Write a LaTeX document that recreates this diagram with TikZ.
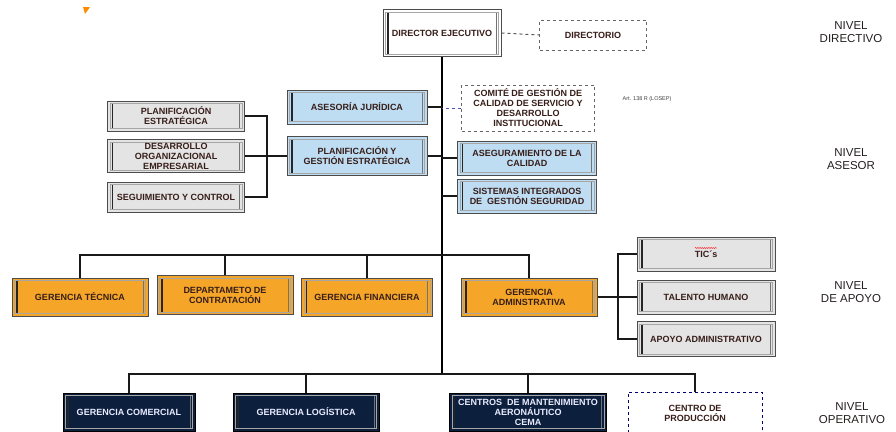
\documentclass[tikz,border=0pt]{standalone}
\usepackage{fontspec}
\setmainfont{Liberation Sans}
\usepackage{tikz}
\usetikzlibrary{decorations.pathmorphing}

\definecolor{txtcol}{RGB}{55,30,25}
\definecolor{boxgrey}{RGB}{228,228,228}
\definecolor{boxblue}{RGB}{190,220,242}
\definecolor{boxorange}{RGB}{245,166,40}
\definecolor{boxnavy}{RGB}{12,32,62}
\definecolor{lvlcol}{RGB}{35,30,30}

\tikzset{
	unit/.style={rectangle, draw=black!70, line width=1pt, align=center,
		font=\bfseries\fontsize{9}{10}\selectfont, text=txtcol, inner sep=1.5pt,
		path picture={
			\draw[black!35, line width=0.4pt]
				([shift={(2.5pt,-2.5pt)}]path picture bounding box.north west) rectangle
				([shift={(-2.5pt,2.5pt)}]path picture bounding box.south east);
			\draw[black!85, line width=1.3pt]
				([shift={(5pt,-3pt)}]path picture bounding box.north west) --
				([shift={(5pt,3pt)}]path picture bounding box.south west);
			\draw[black!55, line width=0.8pt]
				([shift={(-5pt,-3pt)}]path picture bounding box.north east) --
				([shift={(-5pt,3pt)}]path picture bounding box.south east);
		}},
	greybox/.style={unit, fill=boxgrey},
	bluebox/.style={unit, fill=boxblue},
	orangebox/.style={unit, fill=boxorange},
	navybox/.style={unit, fill=boxnavy, draw=black, text=white!92!blue},
	dashbox/.style={rectangle, draw=black!60, dashed, line width=0.9pt, fill=white, align=center,
		font=\bfseries\fontsize{9}{10}\selectfont, text=txtcol, inner sep=1.5pt},
	link/.style={draw=black!90, line width=1.1pt},
	spine/.style={draw=black, line width=2.3pt},
	level/.style={align=center, font=\fontsize{11.5}{13}\selectfont, text=lvlcol}
}

\begin{document}
\begin{tikzpicture}[x=1pt, y=-1pt]
	\useasboundingbox (0,0) rectangle (896,431);
	\clip (0,0) rectangle (896,431);

	% directivo
	\node[greybox, fill=white, minimum width=118pt, minimum height=47pt] (dir) at (442,33) {DIRECTOR EJECUTIVO};
	\node[dashbox, minimum width=107pt, minimum height=30pt] (dirio) at (593,35) {DIRECTORIO};

	% asesor
	\node[bluebox, minimum width=140pt, minimum height=34pt] (aj) at (357,107) {ASESORÍA JURÍDICA};
	\node[bluebox, minimum width=140pt, minimum height=39pt] (pge) at (357,156) {PLANIFICACIÓN Y\\GESTIÓN ESTRATÉGICA};
	\node[dashbox, minimum width=133pt, minimum height=46pt] (com) at (528,108)
		{COMITÉ DE GESTIÓN DE\\CALIDAD DE SERVICIO Y\\DESARROLLO\\INSTITUCIONAL};
	\node[bluebox, minimum width=139pt, minimum height=34pt] (ac) at (527,158) {ASEGURAMIENTO DE LA\\CALIDAD};
	\node[bluebox, minimum width=139pt, minimum height=34pt] (sig) at (527,196) {SISTEMAS INTEGRADOS\\DE \ GESTIÓN SEGURIDAD};
	\node[font=\fontsize{5.5}{6}\selectfont, text=black!75] (art) at (647,99) {Art. 138 R (LOSEP)};

	\node[greybox, minimum width=137pt, minimum height=30pt] (pe) at (176,116) {PLANIFICACIÓN\\ESTRATÉGICA};
	\node[greybox, minimum width=137pt, minimum height=33pt] (doe) at (176,156) {DESARROLLO\\ORGANIZACIONAL\\EMPRESARIAL};
	\node[greybox, minimum width=137pt, minimum height=30pt] (sc) at (176,197) {SEGUIMIENTO Y CONTROL};

	% apoyo
	\node[orangebox, minimum width=136pt, minimum height=38pt] (gt) at (80,297) {GERENCIA TÉCNICA};
	\node[orangebox, minimum width=136pt, minimum height=39pt] (dept) at (225,295) {DEPARTAMETO DE\\CONTRATACIÓN};
	\node[orangebox, minimum width=131pt, minimum height=38pt] (gf) at (367,297) {GERENCIA FINANCIERA};
	\node[orangebox, minimum width=136pt, minimum height=38pt] (ga) at (529,297) {GERENCIA\\ADMINSTRATIVA};

	\node[greybox, minimum width=138pt, minimum height=34pt] (tic) at (706,254) {TIC´s};
	\node[greybox, minimum width=138pt, minimum height=34pt] (th) at (706,297) {TALENTO HUMANO};
	\node[greybox, minimum width=138pt, minimum height=35pt] (aa) at (706,339) {APOYO ADMINISTRATIVO};

	% operativo
	\node[navybox, minimum width=132pt, minimum height=38pt] (gc) at (129,412) {GERENCIA COMERCIAL};
	\node[navybox, minimum width=146pt, minimum height=38pt] (gl) at (306,412) {GERENCIA LOGÍSTICA};
	\node[navybox, minimum width=157pt, minimum height=38pt] (cema) at (528,412) {CENTROS \ DE MANTENIMIENTO\\AERONÁUTICO\\CEMA};
	\node[dashbox, draw=black!55!blue, minimum width=134pt, minimum height=42pt] (cp) at (695,413) {CENTRO DE\\PRODUCCIÓN};

	% niveles
	\node[level] (lvdir) at (851,32) {NIVEL\\DIRECTIVO};
	\node[level] (lvase) at (851,159) {NIVEL\\ASESOR};
	\node[level] (lvapo) at (851,292) {NIVEL\\DE APOYO};
	\node[level] (lvope) at (852,413) {NIVEL\\OPERATIVO};

	% conectores
	\coordinate (apoyo) at (442,255);
	\coordinate (oper) at (442,374);
	\coordinate (lbrk) at (267,156);
	\coordinate (rbrk) at (618,297);

	\draw[spine] (dir.south) -- (oper);
	\draw[draw=black!65, dashed, line width=1pt] (dir.east) -- (dirio.west);
	\draw[draw=black!40!blue!70, dashed, line width=0.9pt] (com.west) -- (com.west -| dir.south);
	\foreach \n in {aj,pge} {\draw[link] (\n.east) -- (\n.east -| dir.south);}
	\foreach \n in {ac,sig} {\draw[link] (\n.west) -- (\n.west -| dir.south);}
	\draw[link] (pe.east) -| (lbrk) |- (sc.east);
	\draw[link] (doe.east) -- (pge.west);

	\draw[link] (apoyo) -| (gt.north);
	\draw[link] (apoyo) -| (dept.north);
	\draw[link] (apoyo) -| (gf.north);
	\draw[link] (apoyo) -| (ga.north);
	\draw[link] (ga.east) -- (th.west);
	\draw[link] (tic.west) -| (rbrk) |- (aa.west);

	\draw[link] (oper) -| (gc.north);
	\draw[link] (oper) -| (gl.north);
	\draw[link] (oper) -| (cema.north);
	\draw[link] (oper) -| (cp.north);

	% marcas
	\draw[red!80, line width=0.5pt, decorate, decoration={snake, amplitude=0.6pt, segment length=2.2pt}]
		([shift={(-11pt,6pt)}]tic.center) -- ([shift={(11pt,6pt)}]tic.center);
	\fill[orange!90!yellow] (83,7) -- (90,7) -- (85,14) -- cycle;
\end{tikzpicture}
\end{document}
